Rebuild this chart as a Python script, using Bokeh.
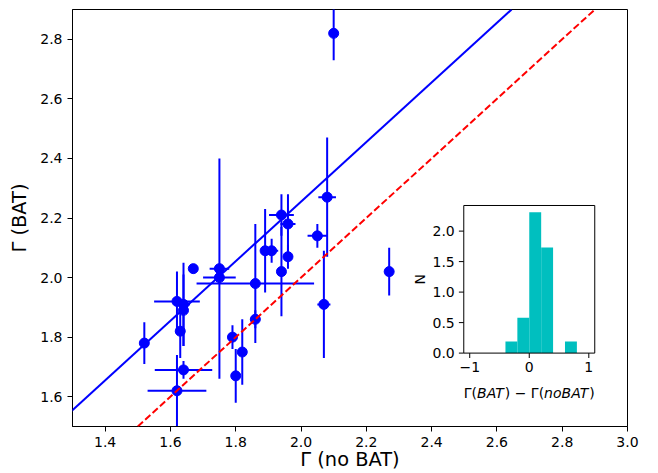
import numpy as np
from bokeh.plotting import figure
from bokeh.models import Range1d, Slope, FixedTicker
from bokeh.core.properties import value
from bokeh.embed import file_html
from bokeh.resources import INLINE

# ---------------- data ----------------
gamma_nobat = [1.52, 1.62, 1.64, 1.64, 1.63, 1.64, 1.62, 1.67, 1.75, 1.75,
               1.86, 1.86, 1.79, 1.80, 1.82, 1.89, 1.91, 1.94, 1.94, 1.96,
               1.96, 2.05, 2.08, 2.07, 2.27, 2.10]
gamma_bat = [1.78, 1.92, 1.91, 1.89, 1.82, 1.69, 1.62, 2.03, 2.03, 2.00,
             1.98, 1.86, 1.80, 1.67, 1.75, 2.09, 2.09, 2.21, 2.02, 2.18,
             2.07, 2.14, 2.27, 1.91, 2.02, 2.82]
err_nobat = [0.00, 0.07, 0.02, 0.00, 0.00, 0.088, 0.09, 0.00, 0.03, 0.05,
             0.18, 0.015, 0.00, 0.00, 0.00, 0.00, 0.02, 0.038, 0.00, 0.023,
             0.00, 0.03, 0.027, 0.02, 0.00, 0.00]
err_bat = [0.07, 0.10, 0.14, 0.12, 0.09, 0.03, 0.12, 0.00, 0.37, 0.02,
           0.20, 0.03, 0.04, 0.09, 0.11, 0.14, 0.04, 0.07, 0.15, 0.10,
           0.04, 0.04, 0.20, 0.18, 0.08, 0.09]

x_ticks = [1.4, 1.6, 1.8, 2.0, 2.2, 2.4, 2.6, 2.8, 3.0]
y_ticks = [1.6, 1.8, 2.0, 2.2, 2.4, 2.6, 2.8]
x_lim = (1.3, 3.0)
y_lim = (1.5, 2.9)

fit_slope = 1.0
fit_intercept = 0.255

hist_left = [-0.4, -0.2, 0.0, 0.2, 0.4, 0.6]
hist_width = 0.2
hist_density = [0.19, 0.58, 2.31, 1.73, 0.0, 0.19]
hist_xticks = [-1, 0, 1]
hist_xtick_labels = ["\u22121", "0", "1"]
hist_yticks = [0.0, 0.5, 1.0, 1.5, 2.0]
hist_xlim = (-1.1, 1.1)
hist_ylim = (0.0, 2.42)

# ---------------- layout ----------------
FONT = "DejaVu Sans"
W, H = 658, 473
BL, BR, BT, BB = 72, 31, 9, 47
FW, FH = W - BL - BR, H - BT - BB
# inset box as fraction of the main frame: left, bottom, width, height
IN_L, IN_B, IN_W, IN_H = 0.705, 0.176, 0.236, 0.354

p = figure(width=W, height=H, x_range=Range1d(*x_lim), y_range=Range1d(*y_lim),
           output_backend="svg", toolbar_location=None,
           min_border_left=BL, min_border_right=BR,
           min_border_top=BT, min_border_bottom=BB)
p.grid.visible = False
p.background_fill_color = "white"
p.border_fill_color = "white"
p.outline_line_color = "black"
p.outline_line_width = 1

for ax in (p.xaxis[0], p.yaxis[0]):
    ax.axis_line_color = "black"
    ax.axis_line_width = 1
    ax.major_tick_in = 0
    ax.major_tick_out = 5
    ax.major_tick_line_color = "black"
    ax.minor_tick_line_color = None
    ax.major_label_text_font = FONT
    ax.major_label_text_font_size = "14px"
    ax.major_label_text_color = "black"
    ax.major_label_standoff = 5
    ax.axis_label_text_font = FONT
    ax.axis_label_text_font_style = "normal"
    ax.axis_label_text_font_size = "19.4px"
    ax.axis_label_text_color = "black"

p.xaxis.ticker = FixedTicker(ticks=x_ticks)
p.xaxis.major_label_overrides = {t: f"{t:.1f}" for t in x_ticks}
p.yaxis.ticker = FixedTicker(ticks=y_ticks)
p.yaxis.major_label_overrides = {t: f"{t:.1f}" for t in y_ticks}
p.xaxis.axis_label = "\u0393 (no BAT)"
p.yaxis.axis_label = "\u0393 (BAT)"
p.xaxis.axis_label_standoff = -2
p.yaxis.axis_label_standoff = 6

# ---------------- main scatter ----------------
x = np.array(gamma_nobat)
y = np.array(gamma_bat)
xe = np.array(err_nobat)
ye = np.array(err_bat)

p.segment(x0=x - xe, y0=y, x1=x + xe, y1=y, line_color="blue", line_width=2)
p.segment(x0=x, y0=y - ye, x1=x, y1=y + ye, line_color="blue", line_width=2)
p.scatter(x, y, size=10, fill_color="blue", line_color="blue")

p.add_layout(Slope(gradient=fit_slope, y_intercept=fit_intercept,
                   line_color="blue", line_width=2))
p.add_layout(Slope(gradient=1.0, y_intercept=0.0,
                   line_color="red", line_width=2, line_dash="7 3"))

# ---------------- inset histogram ----------------
span_x = (hist_xlim[1] - hist_xlim[0]) / IN_W
hx0 = hist_xlim[0] - IN_L * span_x
span_y = (hist_ylim[1] - hist_ylim[0]) / IN_H
hy0 = hist_ylim[0] - IN_B * span_y
p.extra_x_ranges = {"hx": Range1d(hx0, hx0 + span_x)}
p.extra_y_ranges = {"hy": Range1d(hy0, hy0 + span_y)}
px_x = FW / span_x
px_y = FH / span_y
kw = dict(x_range_name="hx", y_range_name="hy")

p.quad(left=hist_xlim[0], right=hist_xlim[1], bottom=hist_ylim[0], top=hist_ylim[1],
       fill_color="white", line_color=None, **kw)
hl = np.array(hist_left)
p.quad(left=hl, right=hl + hist_width, bottom=0, top=hist_density,
       fill_color="#00bfbf", line_color=None, **kw)
p.quad(left=hist_xlim[0], right=hist_xlim[1], bottom=hist_ylim[0], top=hist_ylim[1],
       fill_color=None, line_color="black", line_width=1, **kw)

tick = 4.9
p.segment(x0=hist_xticks, y0=[hist_ylim[0]] * len(hist_xticks),
          x1=hist_xticks, y1=[hist_ylim[0] - tick / px_y] * len(hist_xticks),
          line_color="black", line_width=1, **kw)
p.segment(x0=[hist_xlim[0]] * len(hist_yticks), y0=hist_yticks,
          x1=[hist_xlim[0] - tick / px_x] * len(hist_yticks), y1=hist_yticks,
          line_color="black", line_width=1, **kw)

p.text(x=hist_xticks, y=[hist_ylim[0]] * len(hist_xticks), text=hist_xtick_labels,
       text_align="center", text_baseline="top", y_offset=9,
       text_font=value(FONT), text_font_size="14px", text_color="black", **kw)
p.text(x=[hist_xlim[0]] * len(hist_yticks), y=hist_yticks,
       text=[f"{t:.1f}" for t in hist_yticks],
       text_align="right", text_baseline="middle", x_offset=-9,
       text_font=value(FONT), text_font_size="14px", text_color="black", **kw)
p.text(x=[hist_xlim[0]], y=[(hist_ylim[0] + hist_ylim[1]) / 2], text=["N"],
       angle=np.pi / 2, text_align="center", text_baseline="middle", x_offset=-44,
       text_font=value(FONT), text_font_size="14px", text_color="black", **kw)

# x label of the inset: Γ(BAT) − Γ(noBAT) with italic letters
fs = 14.0
pieces = [("\u0393(", "normal", 0.946), ("BAT", "italic", 1.981),
          (") \u2212 \u0393(", "normal", 2.81), ("noBAT", "italic", 3.227),
          (")", "normal", 0.390)]
total = sum(w for _, _, w in pieces) * fs
cx = (hist_xlim[0] + hist_xlim[1]) / 2
off = -total / 2
for txt, style, w in pieces:
    p.text(x=[cx], y=[hist_ylim[0]], text=[txt], x_offset=off, y_offset=40,
           text_align="left", text_baseline="alphabetic", text_font_style=style,
           text_font=value(FONT), text_font_size="14px", text_color="black", **kw)
    off += w * fs

open("out.html", "w").write(file_html(p, INLINE))
